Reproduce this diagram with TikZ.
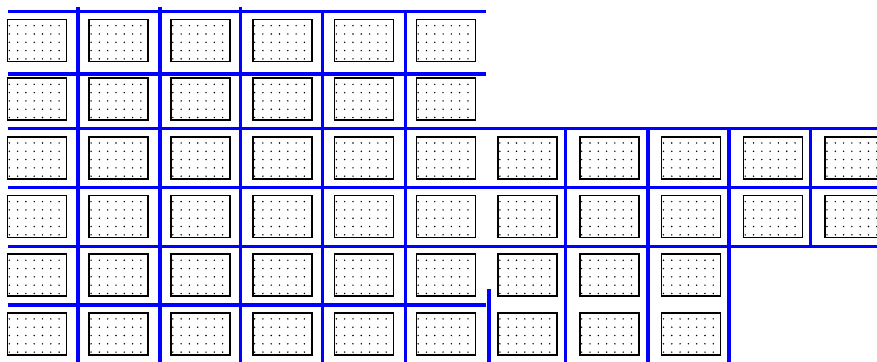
\documentclass[tikz,border=0pt]{standalone}
\begin{document}
\begin{tikzpicture}[x=1pt,y=-1pt,
  grid/.style={draw=blue, line width=3.2pt},
  cell/.style={draw=black, line width=1.6pt, fill=white, anchor=north west,
    minimum width=59pt, minimum height=42pt, inner sep=0pt, outer sep=0pt}]
\useasboundingbox (0,0) rectangle (877,361);
\clip (0,0) rectangle (877,361);
% cells with dots
\foreach \r/\cmax in {0/5,1/5,2/10,3/10,4/8,5/8} {
  \foreach \c in {0,...,\cmax} {
    \pgfmathsetmacro\bx{7.5+81.77*\c}
    \pgfmathsetmacro\by{19.5+58.64*\r}
    \node[cell] (b-\r-\c) at (\bx,\by) {};
    \foreach \i in {0,...,6} {
      \foreach \j in {0,...,4} {
        \fill[black] (\bx+1.8+8.3*\i, \by+6.2+8.3*\j) circle (0.8pt);
      }
    }
  }
}
% vertical lines
\foreach \x in {78,160,240.3} \draw[grid] (\x,7) -- (\x,362);
\foreach \x in {322.3,405.3} \draw[grid] (\x,11.5) -- (\x,362);
\draw[grid] (489,289) -- (489,362);
\foreach \x in {565.7,648,729} \draw[grid] (\x,128.5) -- (\x,362);
\draw[grid] (810.7,128.5) -- (810.7,246.5);
% horizontal lines
\foreach \y in {11.5,74} \draw[grid] (7.5,\y) -- (486,\y);
\foreach \y in {128.5,187.5,246.5} \draw[grid] (7.5,\y) -- (880,\y);
\draw[grid] (7.5,305) -- (486,305);
\end{tikzpicture}
\end{document}
